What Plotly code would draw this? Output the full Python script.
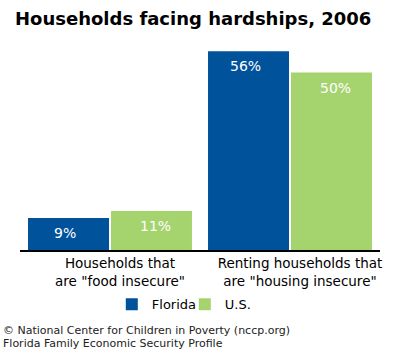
import plotly.graph_objects as go

categories = ['Households that<br>are "food insecure"', 'Renting households that<br>are "housing insecure"']
florida = [9, 56]
us = [11, 50]
series_names = ["Florida", "U.S."]
colors = ["#00529B", "#A5D46F"]

fig = go.Figure()
for i, (name, vals, col) in enumerate(zip(series_names, [florida, us], colors)):
    fig.add_trace(go.Bar(
        x=categories, y=vals, name=name,
        marker=dict(color=col, line=dict(width=0)),
        hoverinfo="skip", offsetgroup=str(i),
    ))

fig.update_layout(
    width=400, height=350,
    margin=dict(l=20, r=20, t=37, b=100),
    paper_bgcolor="white", plot_bgcolor="white",
    barmode="group", bargap=0.078, bargroupgap=0.024,
    font=dict(family="DejaVu Sans", color="black", size=13),
    title=dict(text="<b>Households facing hardships, 2006</b>", x=0.0375, xanchor="left",
               y=0.948, yanchor="middle", font=dict(size=18, family="DejaVu Sans", color="black")),
    showlegend=True,
    legend=dict(orientation="h", x=0.255, xanchor="left", y=-0.184, yanchor="top",
                font=dict(size=13), entrywidth=28, entrywidthmode="pixels", traceorder="normal"),
)
fig.update_xaxes(showline=True, linecolor="black", linewidth=2, ticks="", showgrid=False,
                 tickfont=dict(size=13.5, color="black"), ticklabelshift=10)
fig.update_yaxes(range=[0, 60], visible=False, showgrid=False)

# value labels inside bar tops
offsets = [-0.25, 0.25]
for vals, off in zip([florida, us], offsets):
    for j, v in enumerate(vals):
        fig.add_annotation(x=j + off, y=v, text=f"{v}%", showarrow=False, yanchor="top", yshift=-5,
                           xref="x", yref="y", font=dict(color="white", size=14, family="DejaVu Sans"))

fig.add_annotation(text="© National Center for Children in Poverty (nccp.org)",
                   xref="paper", yref="paper", x=-0.05, y=-0.343, xanchor="left", yanchor="top",
                   showarrow=False, align="left", borderpad=0,
                   font=dict(size=11, color="#222222", family="DejaVu Sans"))
fig.add_annotation(text="Florida Family Economic Security Profile",
                   xref="paper", yref="paper", x=-0.05, y=-0.406, xanchor="left", yanchor="top",
                   showarrow=False, align="left", borderpad=0,
                   font=dict(size=11, color="#222222", family="DejaVu Sans"))

fig.write_html("out.html")
